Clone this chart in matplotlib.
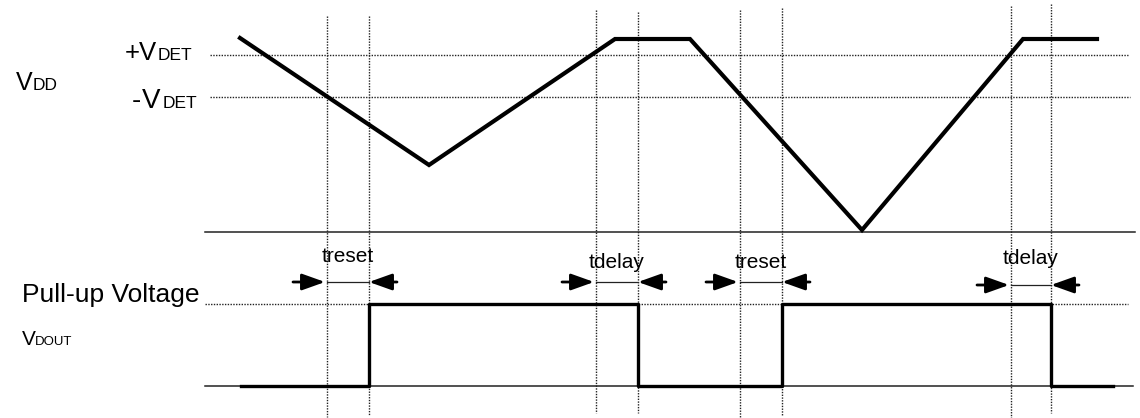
import matplotlib
matplotlib.use("Agg")
import matplotlib.pyplot as plt

plt.rcParams['font.family'] = ['Liberation Sans', 'DejaVu Sans']

# VDD waveform (time, level) in drawing units
vdd_t = [240, 429, 615, 690, 862, 1023, 1097]
vdd_v = [38, 165, 39, 39, 230, 39, 39]

# VDOUT waveform edges and levels
out_t = [241, 369, 638, 782, 1051, 1113]
out_v = [386, 304, 386, 304, 386, 386]

# threshold / reference levels
v_det_pos = 55
v_det_neg = 97
vdd_base = 232
pullup = 304
out_base = 386

# vertical markers and their extents
marks_x = [327, 369, 596, 638, 740, 782, 1011, 1051]
marks_top = [16, 16, 10, 12, 10, 8, 6, 4]
marks_bot = [417, 415, 413, 413, 418, 415, 418, 413]

# timing intervals: (start, end, label, arrow y, label y)
intervals = [
    (327, 369, 'treset', 282, 257),
    (596, 638, 'tdelay', 282, 262),
    (740, 782, 'treset', 282, 262),
    (1011, 1051, 'tdelay', 285, 258),
]

fig = plt.figure(figsize=(11.4, 4.18), dpi=100)
ax = fig.add_axes([0, 0, 1, 1])
ax.set_xlim(0, 1140)
ax.set_ylim(418, 0)
ax.axis('off')

dot = dict(color='#222222', lw=1.0, ls=(0, (1, 1)))

# reference lines
ax.plot([210, 1128], [v_det_pos, v_det_pos], **dot)
ax.plot([210, 1130], [v_det_neg, v_det_neg], **dot)
ax.plot([205, 1128], [pullup, pullup], **dot)
ax.plot([205, 1135], [vdd_base, vdd_base], color='#222222', lw=1.1)
ax.plot([205, 1133], [out_base, out_base], color='#222222', lw=1.1)

for x, t, b in zip(marks_x, marks_top, marks_bot):
    ax.plot([x, x], [t, b], **dot)

# waveforms
ax.plot(vdd_t, vdd_v, color='black', lw=3.0, solid_joinstyle='miter')
ax.step(out_t, out_v, where='post', color='black', lw=2.4)

# timing arrows
head = '-|>,head_length=0.7,head_width=0.25'
for a, b, lab, ya, yl in intervals:
    ax.plot([a, b], [ya, ya], color='#222222', lw=0.9)
    ax.annotate('', xy=(a - 2, ya), xytext=(a - 34, ya),
                arrowprops=dict(arrowstyle=head, color='black', lw=2,
                                mutation_scale=20, shrinkA=0, shrinkB=0))
    ax.annotate('', xy=(b, ya), xytext=(b + 28, ya),
                arrowprops=dict(arrowstyle=head, color='black', lw=2,
                                mutation_scale=20, shrinkA=0, shrinkB=0))
    ax.text((a + b) / 2, yl, lab, fontsize=15, ha='center', va='center')

# labels with small-caps style subscripts
ax.text(125, 60, '+V', fontsize=18.5, ha='left', va='baseline')
ax.text(158, 60, 'DET', fontsize=12.5, ha='left', va='baseline')
ax.text(132, 108, '-', fontsize=20, ha='left', va='baseline')
ax.text(142, 108, 'V', fontsize=20, ha='left', va='baseline')
ax.text(163, 108, 'DET', fontsize=12.5, ha='left', va='baseline')
ax.text(16, 90, 'V', fontsize=18, ha='left', va='baseline')
ax.text(33, 90, 'DD', fontsize=12.5, ha='left', va='baseline')
ax.text(22, 302, 'Pull-up Voltage', fontsize=19, ha='left', va='baseline')
ax.text(22, 345, 'V', fontsize=15, ha='left', va='baseline')
ax.text(35, 345, 'DOUT', fontsize=9.5, ha='left', va='baseline')

fig.savefig('out.png', dpi=100)
